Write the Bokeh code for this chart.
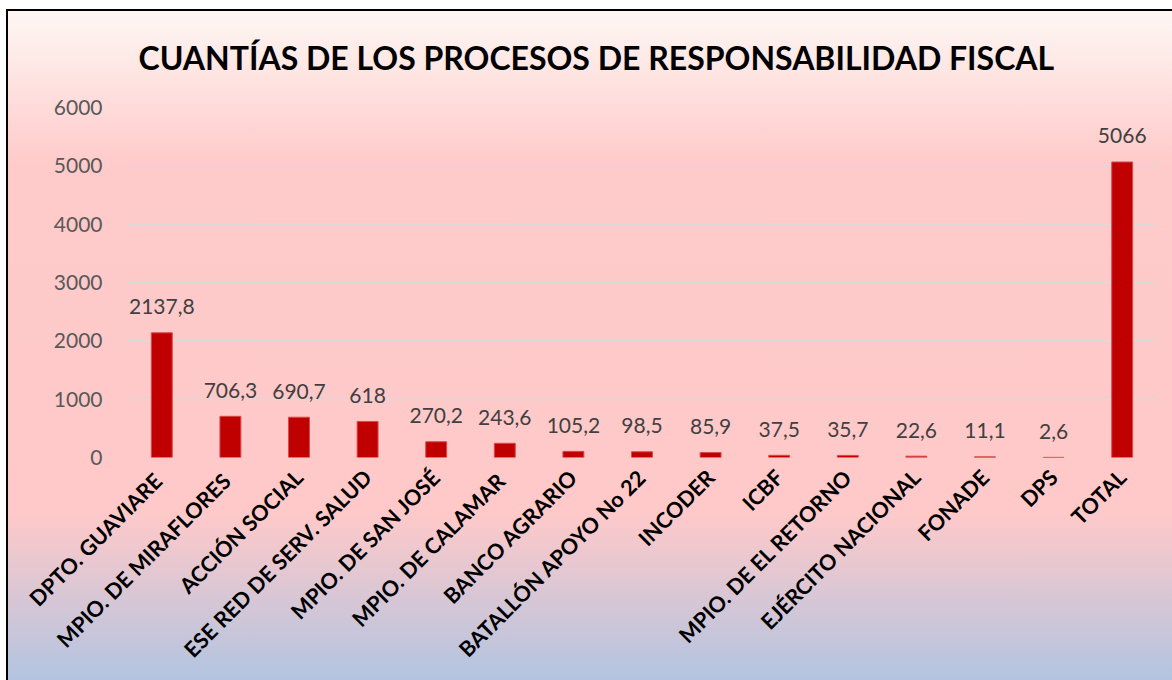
from bokeh.plotting import figure
from bokeh.models import ColumnDataSource, Range1d, FactorRange, FixedTicker
from bokeh.core.properties import value
from bokeh.embed import file_html
from bokeh.resources import INLINE
import math

categories = ["DPTO.  GUAVIARE", "MPIO. DE  MIRAFLORES", "ACCIÓN SOCIAL",
              "ESE RED DE SERV. SALUD", "MPIO. DE SAN JOSÉ", "MPIO. DE  CALAMAR",
              "BANCO AGRARIO", "BATALLÓN APOYO No 22", "INCODER", "ICBF",
              "MPIO. DE EL RETORNO", "EJÉRCITO NACIONAL", "FONADE", "DPS", "TOTAL"]
values = [2137.8, 706.3, 690.7, 618, 270.2, 243.6, 105.2, 98.5, 85.9, 37.5,
          35.7, 22.6, 11.1, 2.6, 5066]
y_ticks = [0, 1000, 2000, 3000, 4000, 5000, 6000]
title_text = "CUANTÍAS DE LOS PROCESOS DE RESPONSABILIDAD FISCAL"

labels = [f"{v:g}".replace(".", ",") for v in values]
src = ColumnDataSource(dict(cat=categories, val=values, lab=labels))

FONT = "Lato"

bg = ("linear-gradient(#000, #000) 6px 9px / 2px 100% no-repeat, "
      "linear-gradient(#000, #000) 6px 9px / 100% 2px no-repeat, "
      "linear-gradient(to bottom, #fdf8f4 0%, #ffcaca 23%, #ffc9c9 74%, #aec4e2 100%) 6px 9px / 100% 100% no-repeat, "
      "#ffffff")

p = figure(width=1172, height=680, output_backend="svg", toolbar_location=None,
           x_range=FactorRange(*categories, range_padding=0),
           y_range=Range1d(0, 6000),
           min_border_left=127, min_border_right=16, min_border_top=107,
           min_border_bottom=223,
           styles={"background": bg})
p.background_fill_alpha = 0
p.border_fill_alpha = 0
p.outline_line_color = None

p.title.text = title_text
p.title.text_font = FONT
p.title.text_font_style = "bold"
p.title.text_font_size = "32px"
p.title.text_color = "black"
p.title.align = "left"
p.title.offset = 11
p.title.standoff = 61

p.vbar(x="cat", top="val", width=0.305, source=src, fill_color="#c00000",
       line_color="#d84a4a", line_width=1)
p.text(x="cat", y="val", text="lab", source=src, text_align="center",
       text_baseline="middle", y_offset=-26, text_font=value(FONT),
       text_font_size="21px", text_color="#404040")

p.xgrid.grid_line_color = None
p.ygrid.grid_line_color = "#d9d9d9"
p.ygrid.grid_line_width = 1.5
p.yaxis.ticker = FixedTicker(ticks=y_ticks)

for ax in (p.xaxis, p.yaxis):
    ax.axis_line_color = None
    ax.major_tick_line_color = None
    ax.minor_tick_line_color = None
    ax.major_tick_out = 0
    ax.major_tick_in = 0
    ax.major_label_text_font = FONT

p.yaxis.major_label_text_font_size = "21px"
p.yaxis.major_label_text_color = "#595959"
p.yaxis.major_label_standoff = 25

p.xaxis.major_label_orientation = math.pi / 4
p.xaxis.major_label_text_font_size = "21.5px"
p.xaxis.major_label_text_font_style = "bold"
p.xaxis.major_label_text_color = "black"
p.xaxis.major_label_standoff = 16

open("out.html", "w").write(file_html(p, INLINE))
